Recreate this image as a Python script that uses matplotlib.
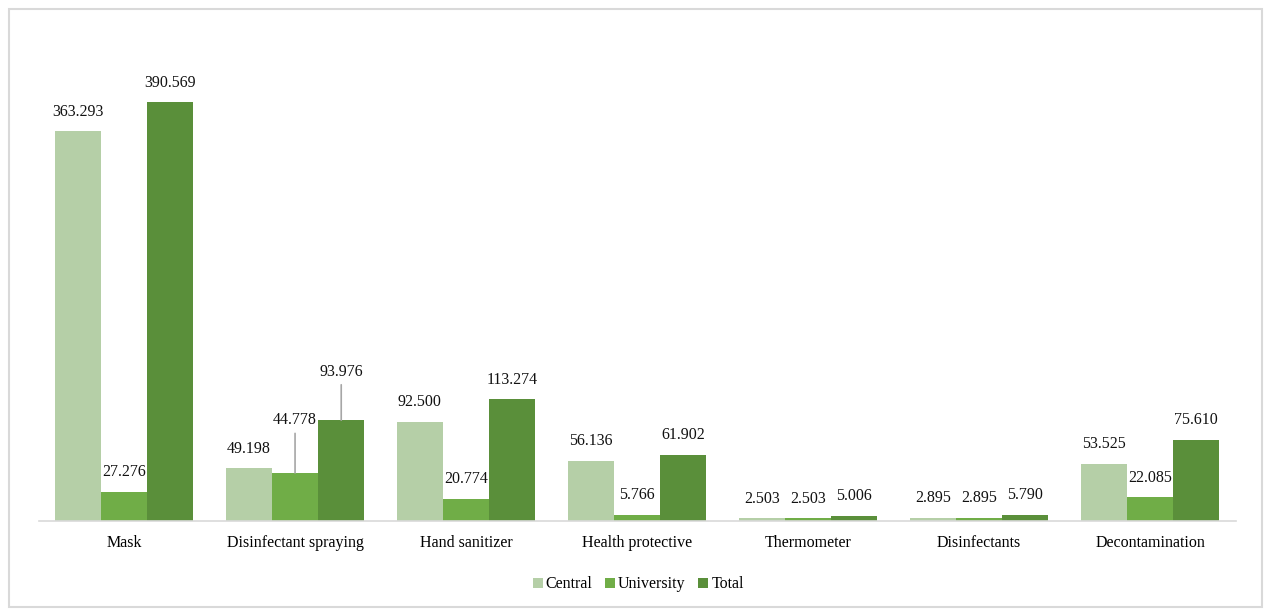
import numpy as np
import matplotlib.pyplot as plt
from matplotlib.patches import Rectangle

# ============================================================
# Data
# ============================================================

categories = ["Mask", "Disinfectant spraying", "Hand sanitizer", "Health protective",
              "Thermometer", "Disinfectants", "Decontamination"]
central = [363.293, 49.198, 92.500, 56.136, 2.503, 2.895, 53.525]
university = [27.276, 44.778, 20.774, 5.766, 2.503, 2.895, 22.085]
total = [390.569, 93.976, 113.274, 61.902, 5.006, 5.790, 75.610]

series_names = ["Central", "University", "Total"]
colors = ["#b5cfa7", "#70ad47", "#5a8f3a"]

# ============================================================
# Plot
# ============================================================

plt.rcParams["font.family"] = ["Liberation Serif", "DejaVu Serif"]

fig = plt.figure(figsize=(12.64, 6.10), dpi=100)
ax = fig.add_axes([0.0305, 0.1459, 0.947, 0.7915])

x = np.arange(len(categories))
w = 0.27
series = [central, university, total]

for i, (vals, name, c) in enumerate(zip(series, series_names, colors)):
    pos = x + (i - 1) * w
    ax.bar(pos, vals, width=w, color=c, label=name, zorder=2)
    for j, (px, v) in enumerate(zip(pos, vals)):
        # Disinfectant spraying labels pushed up with leader lines
        if j == 1 and i == 1:
            off = 38
        elif j == 1 and i == 2:
            off = 35
        else:
            off = 14
        ax.annotate(f"{v:.3f}", xy=(px, v), xytext=(0, off), textcoords="offset points",
                    ha="center", va="center", fontsize=11.5, color="#111111")
        if off > 20:
            ax.annotate("", xy=(px, v), xytext=(0, off - 9.5), textcoords="offset points",
                        arrowprops=dict(arrowstyle="-", color="#a6a6a6", lw=1.2,
                                        shrinkA=0, shrinkB=0))

ax.set_xlim(-0.5, len(categories) - 0.5)
ax.set_ylim(0, 450)
ax.set_xticks(x)
ax.set_xticklabels(categories, fontsize=11.5)
ax.tick_params(axis="x", length=0, pad=10)
ax.set_yticks([])
for s in ["top", "right", "left"]:
    ax.spines[s].set_visible(False)
ax.spines["bottom"].set_color("#d9d9d9")
ax.spines["bottom"].set_linewidth(1.2)

ax.legend(loc="center", bbox_to_anchor=(0.505, 0.042), bbox_transform=fig.transFigure,
          ncol=3, frameon=False, fontsize=11.5, handlelength=0.6, handleheight=0.6,
          handletextpad=0.2, columnspacing=0.8)

# Outer border
fig.patches.append(Rectangle((9 / 1264, 3 / 610), 1253 / 1264, 598 / 610,
                             transform=fig.transFigure, fill=False,
                             edgecolor="#d9d9d9", linewidth=1.5))

fig.savefig("out.png", dpi=100)
